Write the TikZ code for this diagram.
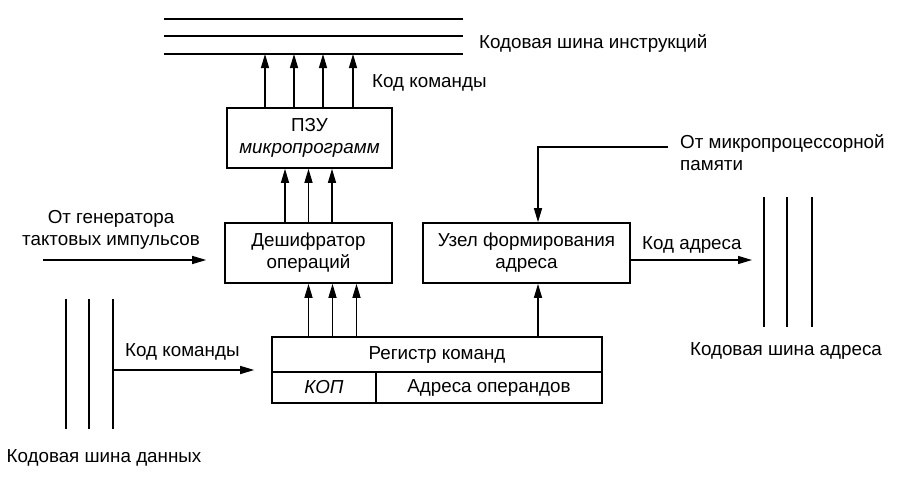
\documentclass[tikz,border=0pt]{standalone}
\usepackage{fontspec}
\setmainfont{Liberation Sans}
\usetikzlibrary{arrows.meta}
\usetikzlibrary{positioning}

\begin{document}
\begin{tikzpicture}[x=1pt,y=-1pt,
  font=\fontsize{18.8}{22}\selectfont,
  blok/.style={draw,line width=1.6pt,align=center,inner sep=0pt},
  shina/.style={line width=2.6pt},
  strelka/.style={line width=1.3pt,-{Triangle[length=14pt,width=8pt]}},
  metka/.style={align=left,inner sep=0pt}]
\useasboundingbox (0,0) rectangle (909,482);
\node [blok,minimum width=165pt,minimum height=60pt] (pzu) at (309.5,138) {ПЗУ\\\textit{микропрограмм}};
\node [blok,minimum width=167pt,minimum height=60pt] (desh) at (308.5,253) {Дешифратор\\операций};
\node [blok,minimum width=207pt,minimum height=60pt] (uzel) at (526.5,253) {Узел формирования\\адреса};
\node [blok,minimum width=330pt,minimum height=35pt] (reg) at (437,354.5) {Регистр команд};
\node [blok,minimum width=104pt,minimum height=31pt] (kop) at (324,387.5) {\textit{КОП}};
\node [blok,minimum width=226pt,minimum height=31pt] (adr) at (489,387.5) {Адреса операндов};
\foreach \y in {19,36,54} \draw [shina] (164,\y) -- (463,\y);
\coordinate (ishina) at (164,54);
\node [metka,anchor=west] (ishtext) at (479,43) {Кодовая шина инструкций};
\foreach \dx in {-44.5,-15.5,13.5,43.5}
  \draw [strelka] ([xshift=\dx pt]pzu.north) -- ([xshift=\dx pt]pzu.north |- ishina);
\node [metka,anchor=west] (kkom1) at (372,83) {Код команды};
\foreach \dx in {-23.5,0,23.5}
  \draw [strelka] ([xshift=\dx pt]desh.north) -- ([xshift=\dx pt]desh.north |- pzu.south);
\foreach \dx in {0,24,48}
  \draw [strelka] ([xshift=\dx pt]desh.south |- reg.north) -- ([xshift=\dx pt]desh.south);
\draw [strelka] ([xshift=11.5pt]uzel.south |- reg.north) -- ([xshift=11.5pt]uzel.south);
\node [metka,align=center] (gentext) at (111,230) {От генератора\\тактовых импульсов};
\coordinate (gen) at (43,260);
\draw [strelka,shorten >=18pt] (gen) -- (gen -| desh.west);
\node [metka,anchor=west] (mptext) at (680,152.5) {От микропроцессорной\\памяти};
\coordinate (mp) at (668,147);
\draw [strelka] (mp) -| ([xshift=11.5pt]uzel.north);
\foreach \x in {764,787,812} \draw [shina] (\x,197) -- (\x,327);
\coordinate (ashina) at (764,260);
\draw [strelka,shorten >=12pt] (uzel.east |- ashina) -- (ashina);
\node [metka,anchor=west] (kadr) at (642,245) {Код адреса};
\node [metka] (ashtext) at (786,351) {Кодовая шина адреса};
\foreach \x in {66,89,113} \draw [shina] (\x,299) -- (\x,429);
\coordinate (dshina) at (113,370);
\draw [strelka,shorten >=17pt] (dshina) -- (dshina -| reg.west);
\node [metka,anchor=west] (kkom2) at (125,352) {Код команды};
\node [metka] (dshtext) at (104,458) {Кодовая шина данных};
\end{tikzpicture}
\end{document}
